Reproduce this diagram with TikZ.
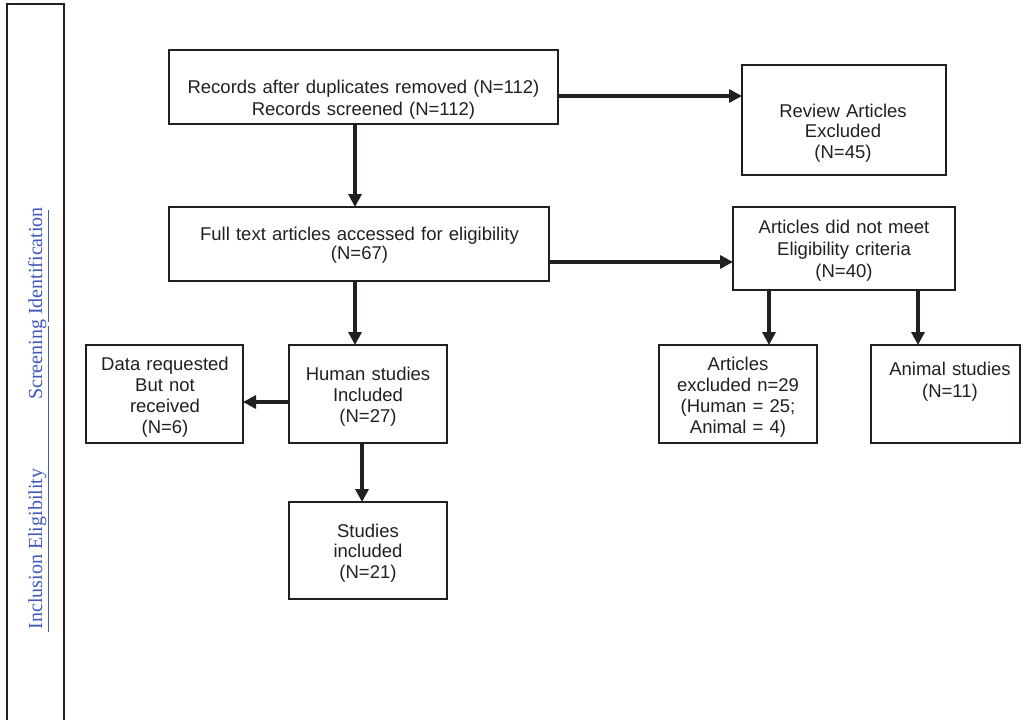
\documentclass[tikz,border=0pt]{standalone}
\usepackage{fontspec}
\setmainfont{Liberation Sans}
\newfontfamily\sidefont{Liberation Serif}
\usetikzlibrary{arrows.meta,calc}
\definecolor{ink}{RGB}{35,31,32}
\definecolor{sideblue}{RGB}{62,88,188}
\tikzset{
  box/.style={draw=ink, line width=2.5pt, inner sep=0pt, outer sep=0pt, rectangle},
  txt/.style={text=ink, inner sep=0pt, anchor=base, align=center, text width=420pt,
              font=\fontsize{18.5pt}{21pt}\selectfont},
  arr/.style={draw=ink, line width=3.4pt, -{Triangle[width=13pt,length=13pt]}},
  sidetxt/.style={text=sideblue, inner sep=0pt, anchor=base, rotate=90,
              font=\sidefont\fontsize{20pt}{24pt}\selectfont},
}
\begin{document}
\begin{tikzpicture}[x=1pt,y=-1pt]
\useasboundingbox (0,0) rectangle (1021,720);
% sidebar
\draw[ink, line width=2pt] (7,730) -- (7,4) -- (64,4) -- (64,730);
\node[sidetxt] (sI) at (42,303.5) {Screening Identification};
\node[sidetxt] (sE) at (42,549) {Inclusion Eligibility};
\draw[sideblue, line width=1.4pt] (48.5,210) -- (48.5,322);
\draw[sideblue, line width=1.4pt] (48.5,326) -- (48.5,632);
% boxes
\node[box, minimum width=389pt, minimum height=74pt] (A) at (363.5,87) {};
\node[box, minimum width=380pt, minimum height=74pt] (B) at (359,244) {};
\node[box, minimum width=204pt, minimum height=110pt] (R) at (844,120) {};
\node[box, minimum width=222pt, minimum height=83pt] (E) at (844,248.5) {};
\node[box, minimum width=158pt, minimum height=98pt] (X) at (738,394) {};
\node[box, minimum width=149pt, minimum height=98pt] (An) at (945.5,394) {};
\node[box, minimum width=157pt, minimum height=98pt] (D) at (164.5,394) {};
\node[box, minimum width=158pt, minimum height=98pt] (H) at (368,394) {};
\node[box, minimum width=158pt, minimum height=97pt] (S) at (368,550.5) {};
% texts
\node[txt, font=\fontsize{18.5pt}{22pt}\selectfont] (tA) at (363.5,93) {Records after duplicates removed (N=112)\\Records screened (N=112)};
\node[txt, font=\fontsize{18.5pt}{19.5pt}\selectfont] (tB) at (359.5,240) {Full text articles accessed for eligibility\\(N=67)};
\node[txt, font=\fontsize{18.5pt}{20.5pt}\selectfont] (tR) at (843,117) {Review Articles\\Excluded\\(N=45)};
\node[txt, font=\fontsize{18.5pt}{22pt}\selectfont] (tE) at (844,233) {Articles did not meet\\Eligibility criteria\\(N=40)};
\node[txt] (tX) at (738,370) {Articles\\excluded n=29\\(Human = 25;\\Animal = 4)};
\node[txt, font=\fontsize{18.5pt}{22pt}\selectfont] (tAn) at (950,375) {Animal studies\\(N=11)};
\node[txt] (tD) at (165,370) {Data requested\\But not\\received\\(N=6)};
\node[txt] (tH) at (368,380) {Human studies\\Included\\(N=27)};
\node[txt, font=\fontsize{18.5pt}{20.5pt}\selectfont] (tS) at (368,537) {Studies\\included\\(N=21)};
% connectors
\draw[arr] ([yshift=-9pt]A.east) -- ([yshift=-9pt]A.east -| R.west);
\draw[arr] ([yshift=-18pt]B.east) -- ([yshift=-18pt]B.east -| E.west);
\draw[arr] ([xshift=-8.5pt]A.south) -- ([xshift=-8.5pt]A.south |- B.north);
\draw[arr] ([xshift=-4pt]B.south) -- ([xshift=-4pt]B.south |- H.north);
\draw[arr] ([xshift=-75pt]E.south) -- ([xshift=-75pt]E.south |- X.north);
\draw[arr] ([xshift=74pt]E.south) -- ([xshift=74pt]E.south |- An.north);
\draw[arr] ([yshift=-8pt]H.west) -- ([yshift=-8pt]H.west -| D.east);
\draw[arr] ([xshift=-6pt]H.south) -- ([xshift=-6pt]H.south |- S.north);
\end{tikzpicture}
\end{document}
